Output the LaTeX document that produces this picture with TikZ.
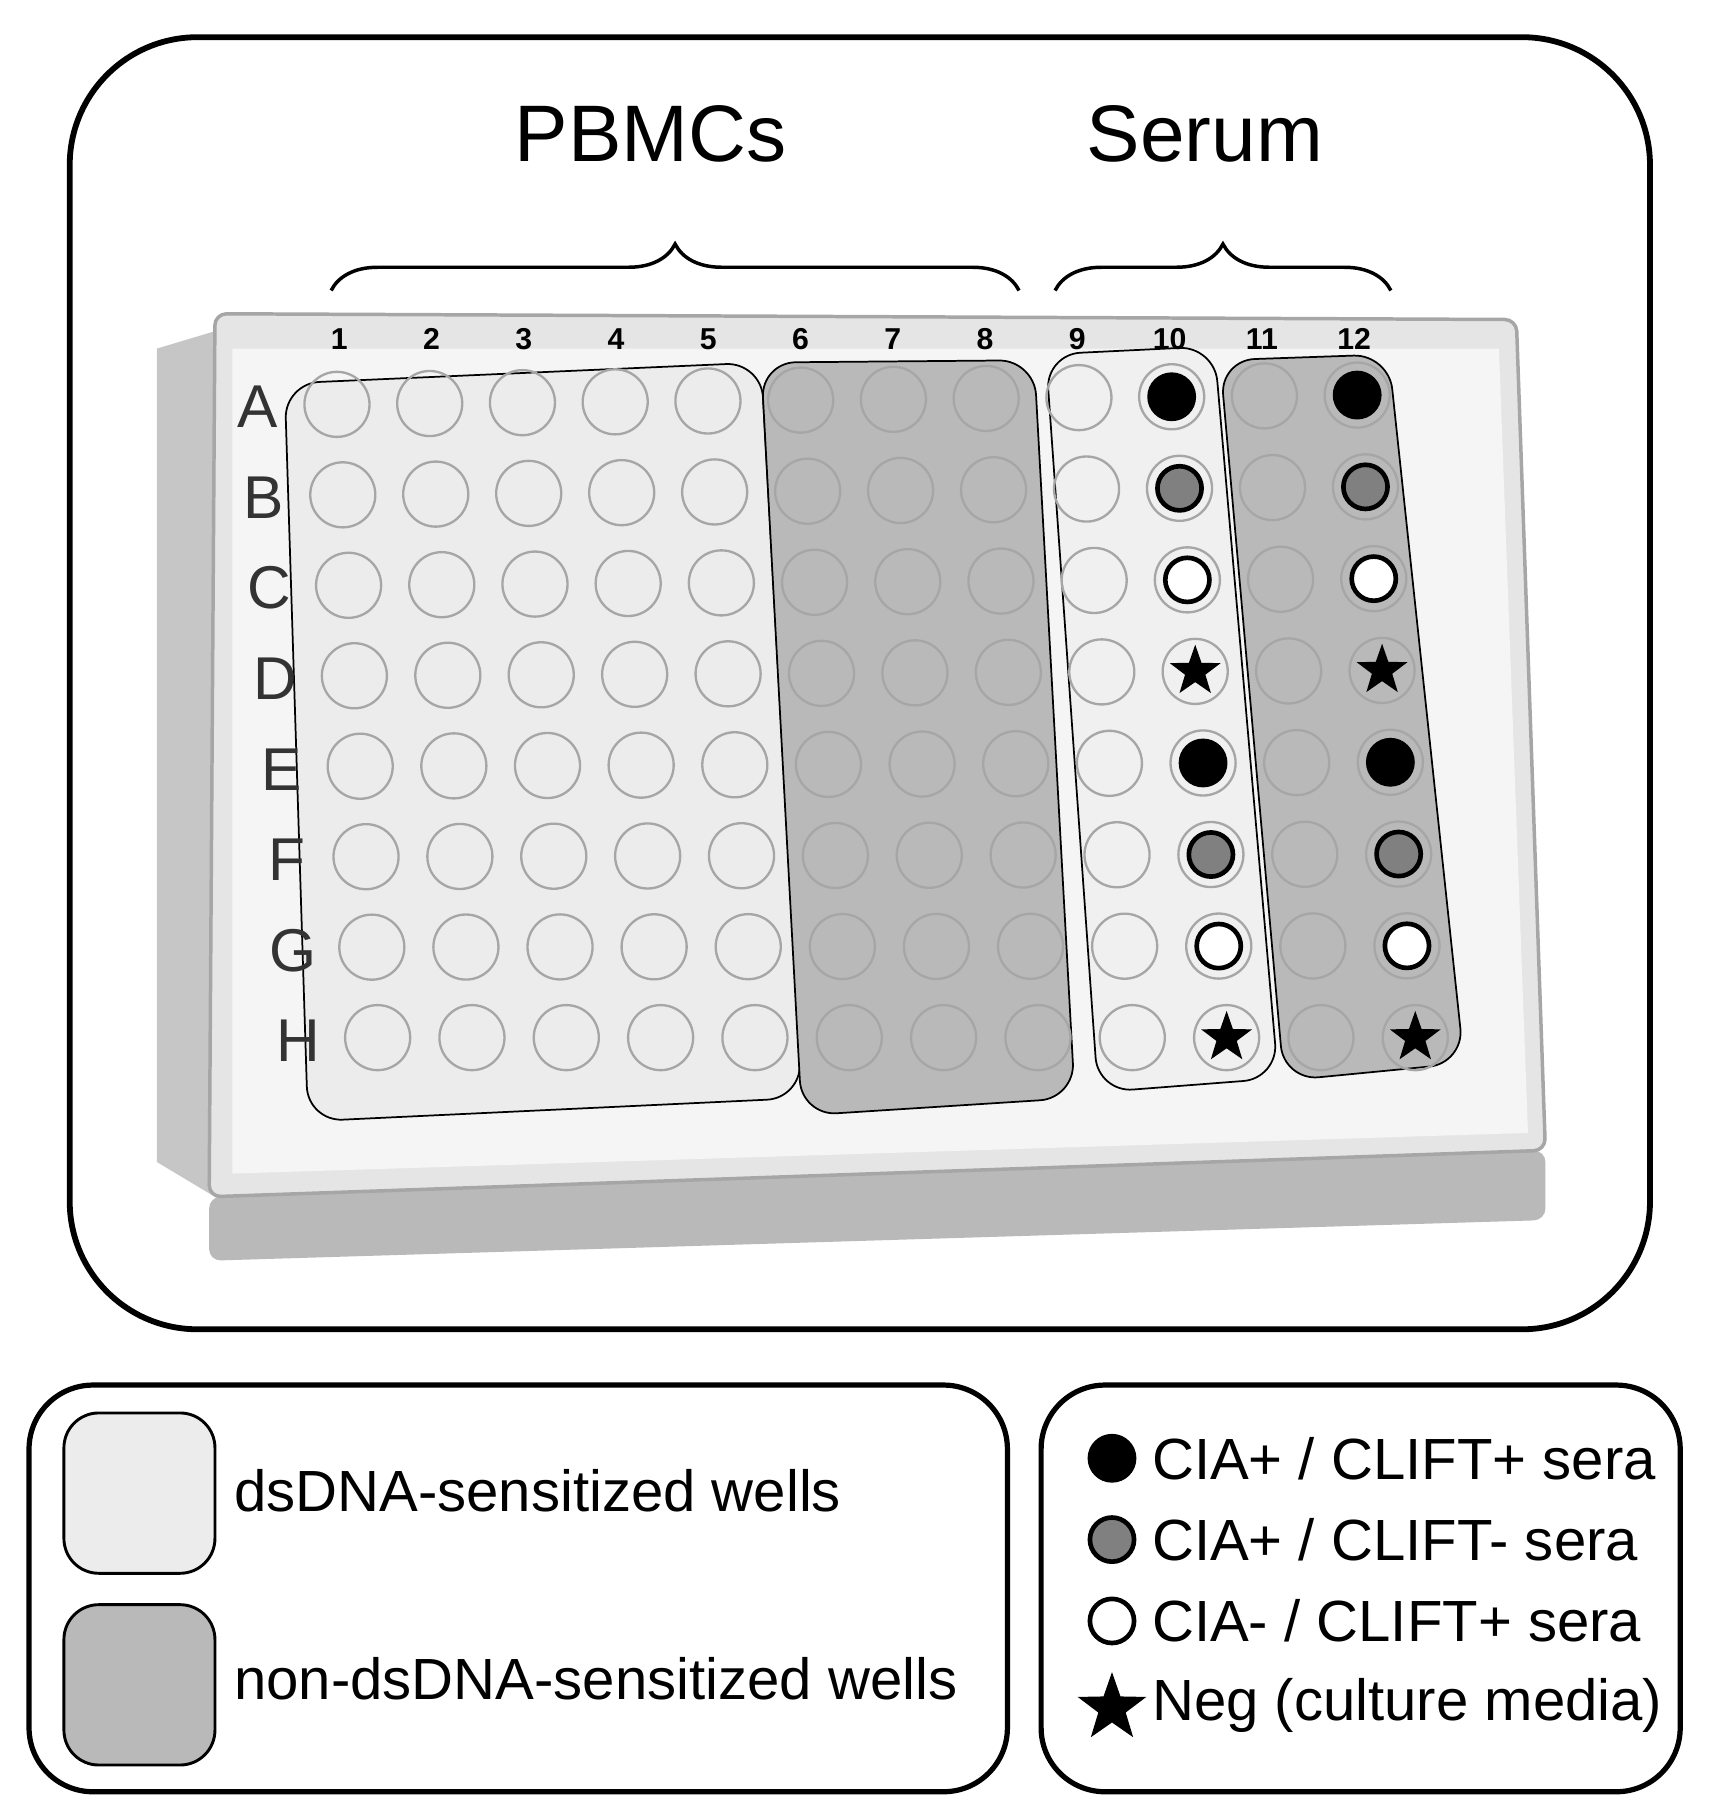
\documentclass[tikz,border=0pt]{standalone}
\usepackage{fontspec}
\setmainfont{Liberation Sans}
\usetikzlibrary{shapes.geometric,decorations.pathreplacing}
\begin{document}
\begin{tikzpicture}[x=1pt,y=-1pt,
  box/.style={line width=5pt,rounded corners=110pt},
  lbox/.style={line width=4.5pt,rounded corners=55pt},
  well/.style={circle,minimum size=56pt,inner sep=0,draw=gray!70,line width=2pt},
  mk/.style={circle,minimum size=38pt,inner sep=0,draw=black,line width=4pt},
  starm/.style={star,star points=5,star point ratio=2.5,fill=black,minimum size=46pt,inner sep=0},
  grp/.style={draw=black,line width=1.5pt,rounded corners=30pt},
  big/.style={font=\fontsize{69}{72}\selectfont},
  leg/.style={font=\fontsize{50}{54}\selectfont,anchor=west}]
\useasboundingbox (0,0) rectangle (1472,1556);
\node[draw,box,minimum width=1360pt,minimum height=1112pt] (frame) at (740,588) {};
\node[big] (pb) at (560,115) {PBMCs};
\node[big] (se) at (1037,115) {Serum};
\draw[line width=3pt,decorate,decoration={brace,amplitude=40pt}] (285,250) -- (877,250);
\draw[line width=3pt,decorate,decoration={brace,amplitude=40pt}] (908,250) -- (1197,250);
% plate
\fill[gray!45] (135,300) -- (185,285) -- (185,1030) -- (135,1000) -- cycle;
\fill[gray!55,rounded corners=10pt] (180,1030) -- (1330,990) -- (1330,1050) -- (180,1085) -- cycle;
\fill[gray!20,draw=gray!70,line width=3pt,rounded corners=10pt] (185,270) -- (1305,275) -- (1330,990) -- (180,1030) -- cycle;
\fill[gray!8] (200,300) -- (1290,300) -- (1315,975) -- (200,1010) -- cycle;
% groups
\fill[gray!15,grp] (245,330) -- (655,312) -- (690,945) -- (265,965) -- cycle;
\fill[gray!55,grp] (655,312) -- (890,310) -- (925,945) -- (690,960) -- cycle;
\fill[gray!12,grp] (900,305) -- (1045,298) -- (1100,928) -- (945,940) -- cycle;
\fill[gray!55,grp] (1050,310) -- (1195,305) -- (1260,915) -- (1105,930) -- cycle;
% numbers
\foreach \i in {1,...,12}{
  \pgfmathsetmacro\xx{292+(\i-1)*79.4}
  \node[font=\fontsize{26}{28}\selectfont\bfseries] (n\i) at (\xx,292) {\i};}
\foreach \l [count=\r] in {A,B,C,D,E,F,G,H}{
  \pgfmathsetmacro\yy{350+(\r-1)*78}
  \pgfmathsetmacro\xl{222+(\r-1)*5}
  \node[font=\fontsize{52}{54}\selectfont,text=black!80] (r\l) at (\xl,\yy) {\l};}
% wells
\foreach \r in {1,...,8}{
  \foreach \c in {1,...,12}{
    \pgfmathsetmacro\t{(\r-1)/7}
    \pgfmathsetmacro\s{(\c-1)/11}
    \pgfmathsetmacro\xx{(1-\t)*(290+\s*878)+\t*(325+\s*893)}
    \pgfmathsetmacro\yy{348+\t*545-\s*8*(1-\t)}
    \node[well] (w\r-\c) at (\xx,\yy) {};}}
% markers
\foreach \c in {10,12}{
  \foreach \r/\f in {1/black,2/gray,3/white,5/black,6/gray,7/white}{
    \node[mk,fill=\f] (m\r-\c) at (w\r-\c) {};}
  \node[starm] (s4-\c) at (w4-\c) {};
  \node[starm] (s8-\c) at (w8-\c) {};}
% legends
\node[draw,lbox,minimum width=842pt,minimum height=350pt] (lg1) at (446,1367) {};
\node[draw,line width=2.5pt,rounded corners=30pt,fill=gray!15,minimum width=130pt,minimum height=138pt] (sw1) at (120,1285) {};
\node[draw,line width=2.5pt,rounded corners=30pt,fill=gray!55,minimum width=130pt,minimum height=138pt] (sw2) at (120,1450) {};
\node[leg] (t1) at (198,1283) {dsDNA-sensitized wells};
\node[leg] (t2) at (198,1445) {non-dsDNA-sensitized wells};
\node[draw,lbox,minimum width=550pt,minimum height=350pt] (lg2) at (1171,1367) {};
\node[mk,fill=black] (k1) at (957,1255) {};
\node[mk,fill=gray] (k2) at (957,1325) {};
\node[mk,fill=white] (k3) at (957,1395) {};
\node[starm,minimum size=62pt] (k4) at (957,1470) {};
\node[leg] (u1) at (988,1255) {CIA+ / CLIFT+ sera};
\node[leg] (u2) at (988,1325) {CIA+ / CLIFT- sera};
\node[leg] (u3) at (988,1395) {CIA- / CLIFT+ sera};
\node[leg] (u4) at (988,1468) {Neg (culture media)};
\end{tikzpicture}
\end{document}
